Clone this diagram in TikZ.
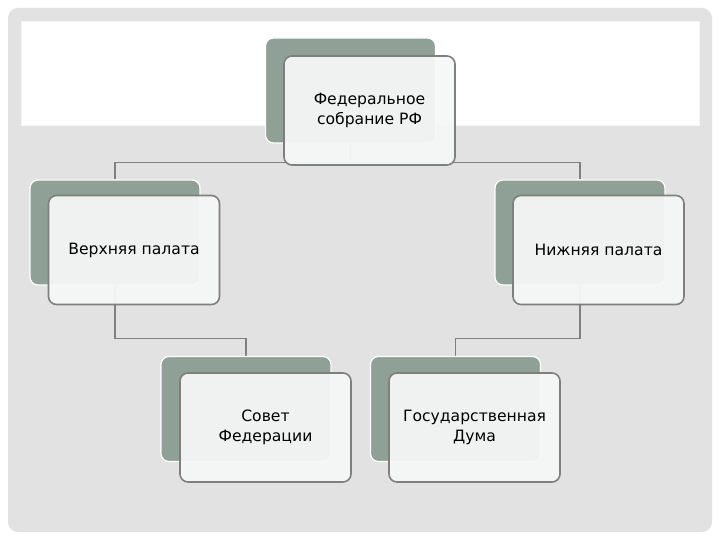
\documentclass[tikz,border=0pt]{standalone}
\usepackage{fontspec}
\setmainfont{DejaVu Sans}
\pgfdeclarelayer{bglayer}
\pgfdeclarelayer{connlayer}
\pgfsetlayers{bglayer,connlayer,main}
\begin{document}
\begin{tikzpicture}[x=1pt,y=-1pt,
  backbox/.style={rectangle,rounded corners=8pt,fill=backc,draw=white,line width=1.2pt,minimum width=170pt,minimum height=105pt,inner sep=0pt},
  frontbox/.style={rectangle,rounded corners=8pt,fill=frontc,fill opacity=0.95,draw=edgec,line width=1.6pt,minimum width=171pt,minimum height=109pt,inner sep=0pt,align=center,text opacity=1,font=\fontsize{15.6}{20}\selectfont,text=black},
  conn/.style={draw=edgec,line width=1.6pt}]
\definecolor{backc}{HTML}{8FA097}
\definecolor{frontc}{HTML}{F6F7F7}
\definecolor{edgec}{HTML}{7F7F7F}
\definecolor{bgc}{HTML}{E2E2E2}
\useasboundingbox (0,0) rectangle (720,540);
\begin{pgfonlayer}{bglayer}
\fill[white] (0,0) rectangle (720,540);
\fill[bgc,rounded corners=10pt] (8,8) rectangle (712,532);
\fill[white,draw=white!96!black,line width=1pt] (21,22) rectangle (699,126);
\end{pgfonlayer}
% back boxes
\node[backbox] (tb) at (350.5,90.5) {};
\node[backbox] (lb) at (115,232.5) {};
\node[backbox] (rb) at (580,232.5) {};
\node[backbox] (sb) at (246,409) {};
\node[backbox] (gb) at (455.5,409) {};
% connectors
\begin{pgfonlayer}{connlayer}
\draw[conn] (tb.south) -- ++(0,19) -| (lb.north);
\draw[conn] (tb.south) -- ++(0,19) -| (rb.north);
\draw[conn] (lb.south) -- ++(0,53) -| (sb.north);
\draw[conn] (rb.south) -- ++(0,53) -| (gb.north);
\end{pgfonlayer}
% front boxes
\node[frontbox] (tf) at (369.5,110.5) {Федеральное\\собрание РФ};
\node[frontbox] (lf) at (134,250) {Верхняя палата};
\node[frontbox] (rf) at (598.5,250) {Нижняя палата};
\node[frontbox] (sf) at (265.5,427.5) {Совет\\Федерации};
\node[frontbox] (gf) at (474.5,427.5) {Государственная\\Дума};
\end{tikzpicture}
\end{document}
